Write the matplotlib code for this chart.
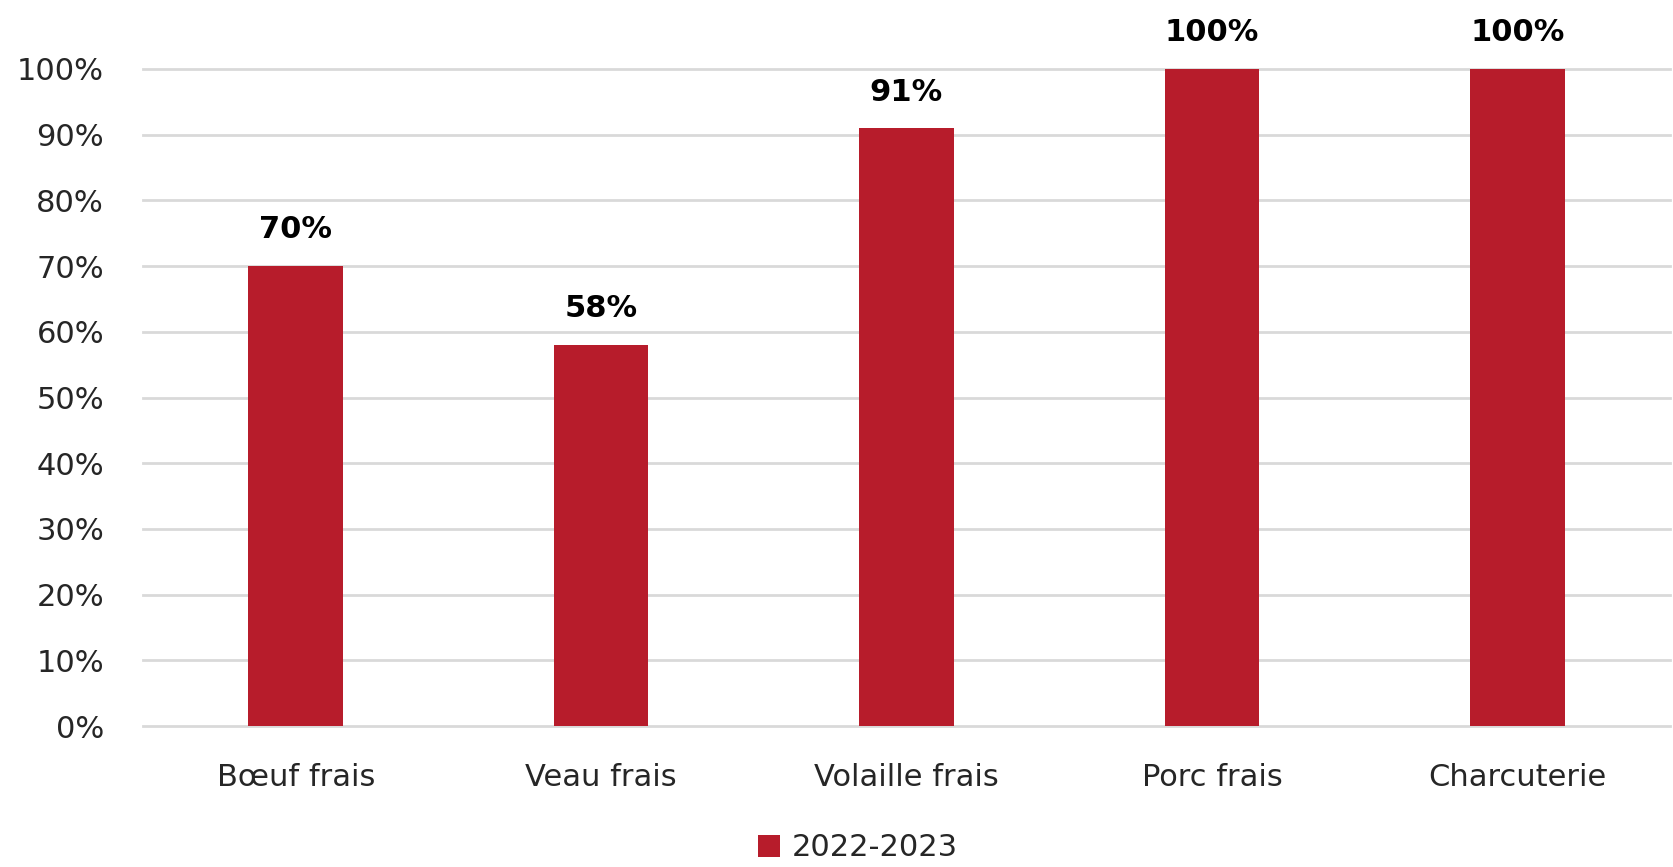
import matplotlib
matplotlib.use("Agg")
import matplotlib.pyplot as plt
from matplotlib.ticker import PercentFormatter

plt.rcParams["font.family"] = ["DejaVu Sans"]

categories = ["Bœuf frais", "Veau frais", "Volaille frais", "Porc frais", "Charcuterie"]
values = [70, 58, 91, 100, 100]
series_name = "2022-2023"
BAR_RED = "#B71C2B"
GRID = "#D9D9D9"
TEXT = "#262626"

fig = plt.figure(figsize=(16.74, 8.67), dpi=100)
ax = fig.add_axes([143 / 1674, 1 - 726 / 867, (1670 - 143) / 1674, (726 - 69) / 867])

x = range(len(categories))
bars = ax.bar(x, values, width=0.31, color=BAR_RED, label=series_name, zorder=3)
for b, v in zip(bars, values):
    ax.annotate(f"{v}%", (b.get_x() + b.get_width() / 2, v), xytext=(0, 26),
                textcoords="offset points", ha="center", va="center",
                fontsize=22, fontweight="bold", color="black")

ax.set_xlim(-0.5, len(categories) - 0.5)
ax.set_ylim(0, 100)
ax.set_yticks(range(0, 101, 10))
ax.yaxis.set_major_formatter(PercentFormatter(decimals=0))
ax.set_xticks(list(x))
ax.set_xticklabels(categories)
ax.tick_params(axis="both", length=0, labelsize=22, colors=TEXT)
ax.tick_params(axis="y", pad=28)
ax.tick_params(axis="x", pad=27)
ax.grid(axis="y", color=GRID, linewidth=2, zorder=0)
for gl in ax.get_ygridlines():
    gl.set_clip_on(False)
for s in ax.spines.values():
    s.set_visible(False)

leg = fig.legend(handles=[bars], labels=[series_name], loc="center",
                 bbox_to_anchor=(858 / 1674, 1 - 848 / 867), frameon=False,
                 fontsize=22, handlelength=0.7, handleheight=0.7, handletextpad=0.4)
for t in leg.get_texts():
    t.set_color(TEXT)

fig.savefig("out.png", dpi=100, facecolor="white")
